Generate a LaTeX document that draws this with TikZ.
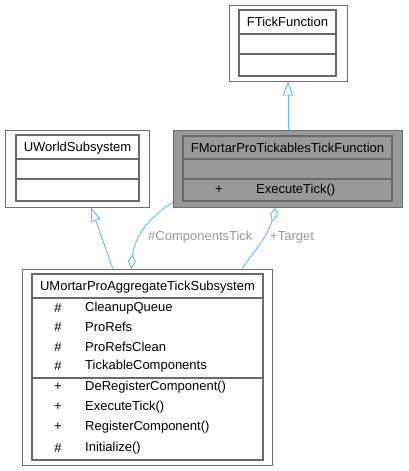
\documentclass[tikz,border=0pt]{standalone}
\usepackage{fontspec}
\setmainfont{Liberation Sans}
\usetikzlibrary{arrows.meta,calc}
\definecolor{edgeblue}{HTML}{63B8FF}
\definecolor{labgray}{HTML}{9A9A9A}
\definecolor{outerline}{HTML}{6E6E6E}
\definecolor{innerline}{HTML}{6A6A6A}
\definecolor{hlfill}{HTML}{999999}
\tikzset{
  x=1pt,y=-1pt,
  outerbox/.style={draw=outerline,line width=0.8pt,fill=white},
  hlbox/.style={draw=outerline,line width=0.8pt,fill=hlfill},
  innerbox/.style={draw=innerline,line width=1.3pt},
  divider/.style={draw=innerline,line width=1.5pt},
  txt/.style={font=\fontsize{13}{15}\selectfont,inner sep=0pt,text=black},
  lab/.style={font=\fontsize{13}{15}\selectfont,inner sep=0pt,text=labgray},
  inherit/.style={draw=edgeblue,line width=0.9pt,-{Triangle[open,length=14pt,width=10pt]}},
  aggr/.style={draw=edgeblue,line width=0.9pt,-{Diamond[open,length=15pt,width=8pt]}},
}
\begin{document}
\begin{tikzpicture}
\useasboundingbox[fill=white] (0,0) rectangle (408,471);
% ---------- FTickFunction ----------
\path[outerbox] (229,5) rectangle (347,81);
\node[minimum width=118pt,minimum height=76pt,inner sep=0pt,anchor=north west] (ftf) at (229,5) {};
\path[innerbox] (239,10) rectangle (336,76);
\draw[divider] (239,34) -- (336,34);
\draw[divider] (239,54) -- (336,54);
\node[txt] (ftft) at (287.5,22) {FTickFunction};
% ---------- FMortarProTickablesTickFunction ----------
\path[hlbox] (173,130) rectangle (402,207);
\node[minimum width=229pt,minimum height=77pt,inner sep=0pt,anchor=north west] (fm) at (173,130) {};
\path[innerbox] (183,136) rectangle (392,201);
\draw[divider] (183,159) -- (392,159);
\draw[divider] (183,179) -- (392,179);
\node[txt] (fmt) at (287.5,148) {FMortarProTickablesTickFunction};
\node[txt] (fmv) at (219,190) {+};
\node[txt,anchor=west] (fmn) at (256,190) {ExecuteTick()};
% ---------- UWorldSubsystem ----------
\path[outerbox] (5,130) rectangle (149,207);
\node[minimum width=144pt,minimum height=77pt,inner sep=0pt,anchor=north west] (uws) at (5,130) {};
\path[innerbox] (16,135) rectangle (139,201);
\draw[divider] (16,159) -- (139,159);
\draw[divider] (16,179) -- (139,179);
\node[txt] (uwst) at (77.5,148) {UWorldSubsystem};
% ---------- UMortarProAggregateTickSubsystem ----------
\path[outerbox] (22,269) rectangle (272,465);
\node[minimum width=250pt,minimum height=196pt,inner sep=0pt,anchor=north west] (bot) at (22,269) {};
\path[innerbox] (32,274) rectangle (263,460);
\draw[divider] (32,298) -- (263,298);
\draw[divider] (32,378) -- (263,378);
\node[txt] (bott) at (147.5,287) {UMortarProAggregateTickSubsystem};
\foreach \v/\n/\y [count=\i] in {\#/CleanupQueue/308,\#/ProRefs/327,\#/ProRefsClean/347,\#/TickableComponents/366,+/DeRegisterComponent()/387,+/ExecuteTick()/407,+/RegisterComponent()/427,\#/Initialize()/448}{
  \node[txt] (bv\i) at (58,\y) {\v};
  \node[txt,anchor=west] (bn\i) at (85,\y) {\n};
}
% ---------- connectors ----------
\coordinate (fmtop) at ($(fm.north west)+(115,0)$);
\coordinate (ftfbot) at ($(ftf.south west)+(59,0)$);
\draw[inherit] (fmtop) -- (ftfbot);
\coordinate (bottop1) at ($(bot.north west)+(91,0)$);
\coordinate (uwsbot) at ($(uws.south west)+(86,0)$);
\draw[inherit] (bottop1) -- (uwsbot);
\coordinate (fmleft) at ($(fm.north west)+(0,72)$);
\coordinate (bottop2) at ($(bot.north west)+(109,0)$);
\draw[aggr] (fmleft) .. controls (150,217) and (135,235) .. (bottop2);
\coordinate (bottop3) at ($(bot.north west)+(220,0)$);
\coordinate (fmbot) at ($(fm.south west)+(103,0)$);
\draw[aggr] (bottop3) .. controls (255,250) and (268,235) .. (fmbot);
\node[lab,anchor=west] (l1) at (148,237) {\#ComponentsTick};
\node[lab,anchor=west] (l2) at (270,237) {+Target};
\end{tikzpicture}
\end{document}
